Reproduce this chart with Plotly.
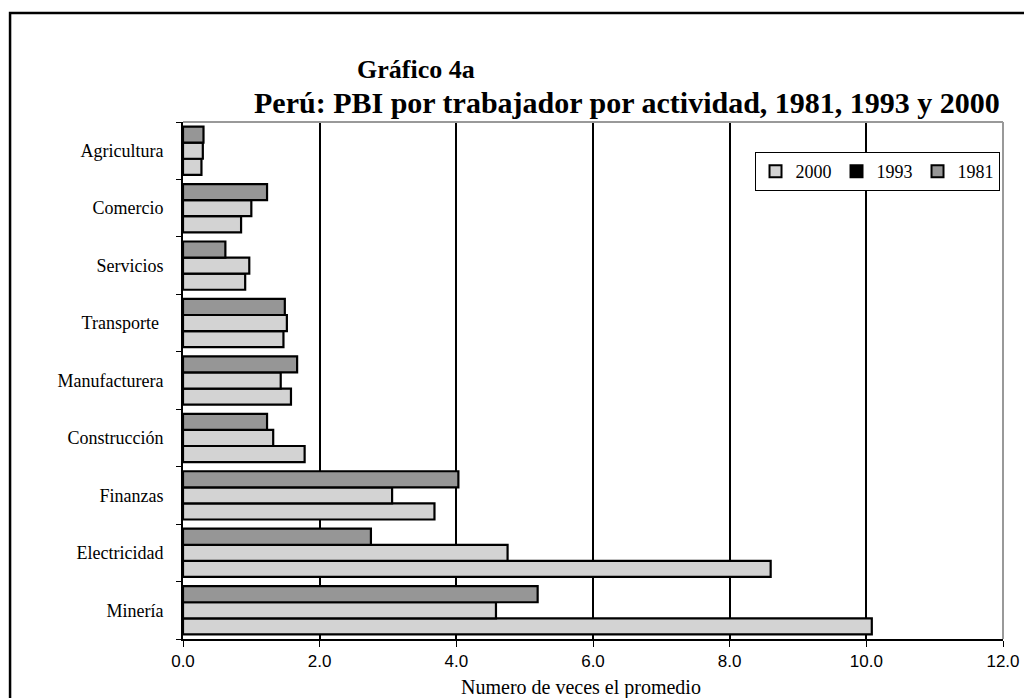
import plotly.graph_objects as go

categories = ["Minería", "Electricidad", "Finanzas", "Construcción", "Manufacturera",
              "Transporte\u00a0", "Servicios", "Comercio", "Agricultura"]
v2000 = [10.08, 8.60, 3.68, 1.78, 1.58, 1.47, 0.91, 0.85, 0.27]
v1993 = [4.58, 4.75, 3.06, 1.32, 1.43, 1.52, 0.97, 1.00, 0.29]
v1981 = [5.19, 2.75, 4.03, 1.23, 1.67, 1.49, 0.62, 1.23, 0.30]
x_ticks = [0, 2, 4, 6, 8, 10, 12]
legend_names = ["2000", "1993", "1981"]

LIGHT = "#D3D3D3"
DARK = "#969696"
serif = "Liberation Serif, Times New Roman, serif"
sans = "Liberation Sans, Arial, sans-serif"

fig = go.Figure()
for vals, col in [(v2000, LIGHT), (v1993, LIGHT), (v1981, DARK)]:
    fig.add_trace(go.Bar(y=categories, x=vals, orientation="h",
                         marker=dict(color=col, line=dict(color="black", width=2.2)),
                         showlegend=False))

for name, col in zip(legend_names, [LIGHT, "black", DARK]):
    fig.add_trace(go.Scatter(x=[None], y=[None], mode="markers", name=name,
                             marker=dict(symbol="square", size=12, color=col,
                                         line=dict(color="black", width=1))))

OFF = 8  # page body margin
W, H = 1032 - OFF, 698 - OFF
L = 183 - OFF
T = 122 - OFF
R = W - (1008 - OFF)
B = H - (639 - OFF)
pw, ph = W - L - R, H - T - B

def px(xr):
    return (xr - OFF - L) / pw

def py(yr):
    return (H - B - (yr - OFF)) / ph

fig.update_layout(
    width=W, height=H,
    margin=dict(l=L, r=R, t=T, b=B),
    paper_bgcolor="white", plot_bgcolor="white",
    barmode="group", bargap=0.16, bargroupgap=0,
    showlegend=True,
    legend=dict(orientation="h", x=px(758), y=py(152), xanchor="left", yanchor="top",
                bordercolor="black", borderwidth=1, bgcolor="white",
                font=dict(family=serif, size=18, color="black"),
                itemsizing="constant", traceorder="normal", itemwidth=30),
    xaxis=dict(range=[0, 12], tickvals=x_ticks, tickformat=".1f",
               showgrid=True, gridcolor="black", gridwidth=1.5,
               showline=True, linecolor="black", linewidth=1.5,
               ticks="outside", ticklen=6, tickcolor="black",
               tickfont=dict(family=sans, size=17, color="black"),
               zeroline=False),
    yaxis=dict(showgrid=False, showline=True, linecolor="black", linewidth=2,
               ticks="outside", ticklen=5, tickcolor="black", tickson="boundaries",
               ticklabelstandoff=14,
               tickfont=dict(family=serif, size=18, color="black")),
    shapes=[
        dict(type="line", xref="paper", yref="paper", x0=0, x1=1, y0=1, y1=1,
             line=dict(color="#999999", width=2)),
        dict(type="line", xref="paper", yref="paper", x0=1, x1=1, y0=0, y1=1,
             line=dict(color="#999999", width=2)),
        dict(type="rect", xref="paper", yref="paper", x0=px(9), x1=px(1060),
             y0=py(720), y1=py(13), line=dict(color="black", width=2.5)),
    ],
    annotations=[
        dict(text="<b>Gráfico 4a</b>", xref="paper", yref="paper", x=px(417), y=py(70),
             xanchor="center", yanchor="middle", showarrow=False,
             font=dict(family=serif, size=26, color="black")),
        dict(text="<b>Perú: PBI por trabajador por actividad, 1981, 1993 y 2000</b>",
             xref="paper", yref="paper", x=px(630), y=py(102),
             xanchor="center", yanchor="middle", showarrow=False,
             font=dict(family=serif, size=30, color="black")),
        dict(text="Numero de veces el promedio", xref="paper", yref="paper",
             x=px(583), y=py(687), xanchor="center", yanchor="middle", showarrow=False,
             font=dict(family=serif, size=20, color="black")),
    ],
)

fig.write_html("out.html")
